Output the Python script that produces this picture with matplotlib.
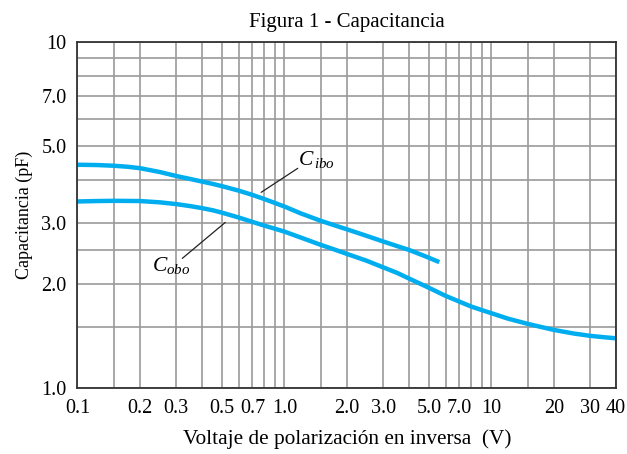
import matplotlib.pyplot as plt

plt.rcParams['font.family'] = ['Liberation Serif', 'DejaVu Serif']
plt.rcParams['mathtext.fontset'] = 'custom'
plt.rcParams['mathtext.it'] = 'Liberation Serif:italic'
plt.rcParams['mathtext.rm'] = 'Liberation Serif'

# valores
v_ibo = [0.1, 0.125, 0.15, 0.175, 0.2, 0.25, 0.3, 0.35, 0.4, 0.45, 0.5, 0.6, 0.7,
         0.8, 0.9, 1.0, 1.2, 1.5, 1.75, 2.0, 2.5, 3.0, 3.5, 4.0, 4.8, 5.6]
c_ibo = [4.42, 4.41, 4.39, 4.36, 4.32, 4.21, 4.10, 4.02, 3.95, 3.89, 3.83, 3.72, 3.615,
         3.515, 3.425, 3.345, 3.195, 3.04, 2.95, 2.875, 2.75, 2.65, 2.57, 2.505, 2.40, 2.31]

v_obo = [0.1, 0.125, 0.15, 0.2, 0.25, 0.3, 0.35, 0.4, 0.45, 0.5, 0.6, 0.7, 0.8, 0.9,
         1.0, 1.2, 1.5, 1.75, 2.0, 2.5, 3.0, 3.5, 4.0, 5.0, 6.0, 7.0, 8.0, 9.0, 10,
         12, 15, 20, 25, 30, 35, 40]
c_obo = [3.46, 3.47, 3.475, 3.47, 3.44, 3.40, 3.355, 3.31, 3.263, 3.21, 3.11, 3.02, 2.945,
         2.885, 2.83, 2.72, 2.59, 2.51, 2.44, 2.33, 2.23, 2.15, 2.07, 1.945, 1.845, 1.775,
         1.717, 1.677, 1.643, 1.585, 1.53, 1.47, 1.435, 1.413, 1.40, 1.39]

x_grid = [0.1, 0.15, 0.2, 0.3, 0.4, 0.5, 0.6, 0.7, 0.8, 0.9, 1.0, 1.5, 2.0, 3.0,
          4.0, 5.0, 6.0, 7.0, 8.0, 9.0, 10, 15, 20, 30, 40]
x_labels = {0.1: '0.1', 0.2: '0.2', 0.3: '0.3', 0.5: '0.5', 0.7: '0.7', 1.0: '1.0',
            2.0: '2.0', 3.0: '3.0', 5.0: '5.0', 7.0: '7.0', 10: '10', 20: '20',
            30: '30', 40: '40'}
y_grid = [1.0, 1.5, 2.0, 2.5, 3.0, 4.0, 5.0, 6.0, 7.0, 8.0, 9.0, 10]
y_labels = {1.0: '1.0', 2.0: '2.0', 3.0: '3.0', 5.0: '5.0', 7.0: '7.0', 10: '10'}

fig = plt.figure(figsize=(6.27, 4.54), dpi=100)
ax = fig.add_axes([0.1236, 0.146, 0.8589, 0.761])
ax.set_xscale('log')
ax.set_yscale('log')
ax.set_xlim(0.1, 40)
ax.set_ylim(1.0, 10)

ax.set_xticks(x_grid)
ax.set_xticklabels([x_labels.get(v, '') for v in x_grid])
ax.set_xticks([], minor=True)
ax.set_yticks(y_grid)
ax.set_yticklabels([y_labels.get(v, '') for v in y_grid])
ax.set_yticks([], minor=True)
ax.tick_params(length=0, labelsize=14.5)
ax.tick_params(axis='x', pad=8)
ax.tick_params(axis='y', pad=8)
ax.grid(True, color='#9a9a9a', lw=1.2)
for s in ax.spines.values():
    s.set_color('#333333')
    s.set_linewidth(1.3)

blue = '#00aeef'
ax.plot(v_ibo, c_ibo, color=blue, lw=3.2, solid_capstyle='butt')
ax.plot(v_obo, c_obo, color=blue, lw=3.2, solid_capstyle='butt')

ax.annotate('', xy=(0.752, 3.64), xytext=(1.19, 4.36),
            arrowprops=dict(arrowstyle='-', color='#222222', lw=0.9))
ax.text(1.43, 4.27, r'$C_{\,ibo}$', fontsize=15.5, ha='center', va='bottom')
ax.annotate('', xy=(0.530, 3.045), xytext=(0.3134, 2.34),
            arrowprops=dict(arrowstyle='-', color='#222222', lw=0.9))
ax.text(0.285, 2.42, r'$C_{obo}$', fontsize=15.5, ha='center', va='top')

ax.set_title('Figura 1 - Capacitancia', fontsize=15, pad=11)
ax.set_xlabel('Voltaje de polarización en inversa  (V)', fontsize=15.3, labelpad=8)
ax.set_ylabel('Capacitancia (pF)', fontsize=13, labelpad=6)

fig.savefig('out.png', dpi=100)
